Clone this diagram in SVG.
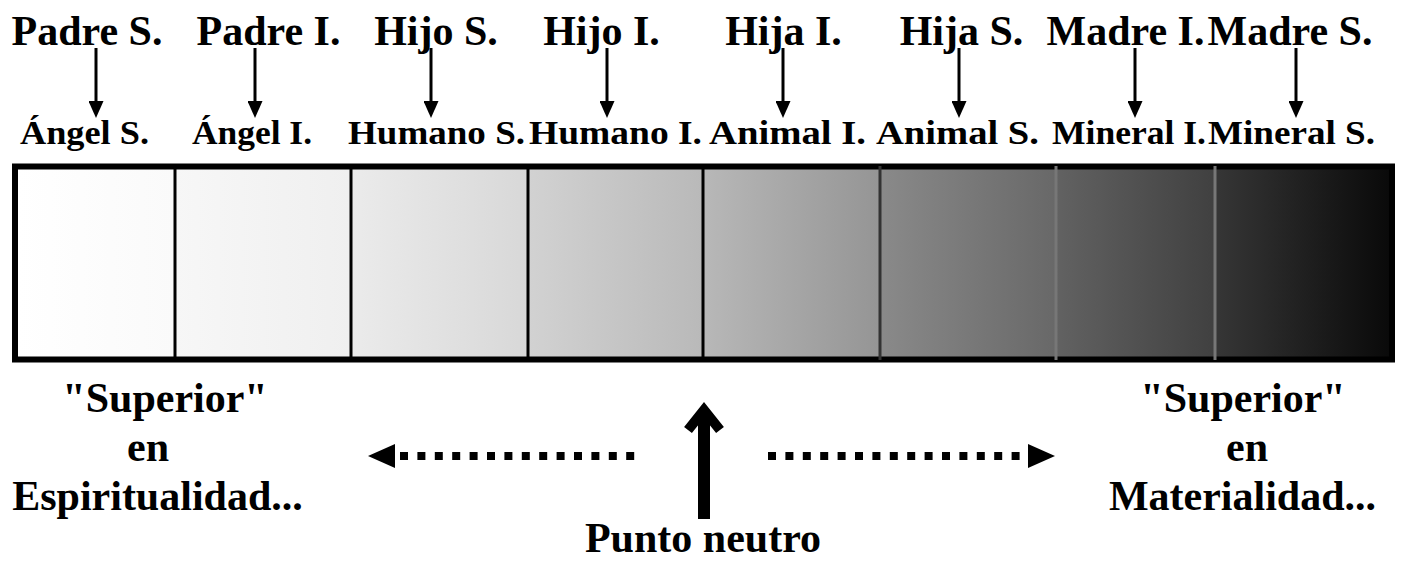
<svg xmlns="http://www.w3.org/2000/svg" width="1403" height="562" viewBox="0 0 1403 562">
<style>
text{font-family:"Liberation Serif","Times New Roman",serif;font-weight:bold;fill:#000;text-anchor:middle}
.top{font-size:42px}
.bot{font-size:33px}
.big{font-size:42px}
.conn line{stroke:#000;stroke-width:3}
.div{stroke-width:3}
.dots{stroke:#000;stroke-width:8;stroke-dasharray:8 9.4;fill:none}
</style>
<defs>
<marker id="ah" viewBox="0 0 17 15" refX="3" refY="7.5" markerWidth="17" markerHeight="15" markerUnits="userSpaceOnUse" orient="auto">
<path d="M0,0 L17,7.5 L0,15 Z" fill="#000"/>
</marker>
<linearGradient id="g" gradientUnits="userSpaceOnUse" x1="18" y1="0" x2="1389" y2="0">
<stop offset="0" stop-color="#ffffff"/>
<stop offset="0.1138" stop-color="#fafafa"/>
<stop offset="0.1138" stop-color="#f7f7f7"/>
<stop offset="0.2429" stop-color="#efefef"/>
<stop offset="0.2429" stop-color="#ebebeb"/>
<stop offset="0.372" stop-color="#d8d8d8"/>
<stop offset="0.372" stop-color="#d2d2d2"/>
<stop offset="0.4996" stop-color="#b9b9b9"/>
<stop offset="0.4996" stop-color="#b8b8b8"/>
<stop offset="0.628" stop-color="#959595"/>
<stop offset="0.628" stop-color="#8a8a8a"/>
<stop offset="0.7571" stop-color="#686868"/>
<stop offset="0.7571" stop-color="#626262"/>
<stop offset="0.8731" stop-color="#404040"/>
<stop offset="0.8731" stop-color="#363636"/>
<stop offset="1" stop-color="#0a0a0a"/>
</linearGradient>
</defs>
<rect width="1403" height="562" fill="#fff"/>

<g id="bar">
<rect x="15" y="166.5" width="1377" height="193" fill="url(#g)" stroke="#000" stroke-width="6"/>
<line class="div" x1="175" y1="167" x2="175" y2="359" stroke="#000"/>
<line class="div" x1="351" y1="167" x2="351" y2="359" stroke="#000"/>
<line class="div" x1="528" y1="167" x2="528" y2="359" stroke="#000"/>
<line class="div" x1="703" y1="167" x2="703" y2="359" stroke="#000"/>
<line class="div" x1="880" y1="166" x2="880" y2="360" stroke="#333"/>
<line class="div" x1="1056" y1="166" x2="1056" y2="360" stroke="#777"/>
<line class="div" x1="1215" y1="166" x2="1215" y2="360" stroke="#777"/>
</g>

<g id="n-padre-s"><text class="top" x="87" y="45">Padre S.</text></g>
<g id="n-padre-i"><text class="top" x="268.5" y="45">Padre I.</text></g>
<g id="n-hijo-s"><text class="top" x="436" y="45">Hijo S.</text></g>
<g id="n-hijo-i"><text class="top" x="601.5" y="45">Hijo I.</text></g>
<g id="n-hija-i"><text class="top" x="783.5" y="45">Hija I.</text></g>
<g id="n-hija-s"><text class="top" x="961.5" y="45">Hija S.</text></g>
<g id="n-madre-i"><text class="top" x="1125.5" y="45">Madre I.</text></g>
<g id="n-madre-s"><text class="top" x="1290" y="45">Madre S.</text></g>

<g id="n-angel-s"><text class="bot" x="84.5" y="144" textLength="129" lengthAdjust="spacingAndGlyphs">Ángel S.</text></g>
<g id="n-angel-i"><text class="bot" x="252" y="144" textLength="120" lengthAdjust="spacingAndGlyphs">Ángel I.</text></g>
<g id="n-humano-s"><text class="bot" x="436.5" y="144" textLength="177" lengthAdjust="spacingAndGlyphs">Humano S.</text></g>
<g id="n-humano-i"><text class="bot" x="615.5" y="144" textLength="173" lengthAdjust="spacingAndGlyphs">Humano I.</text></g>
<g id="n-animal-i"><text class="bot" x="787.5" y="144" textLength="157" lengthAdjust="spacingAndGlyphs">Animal I.</text></g>
<g id="n-animal-s"><text class="bot" x="957.5" y="144" textLength="163" lengthAdjust="spacingAndGlyphs">Animal S.</text></g>
<g id="n-mineral-i"><text class="bot" x="1129" y="144" textLength="154" lengthAdjust="spacingAndGlyphs">Mineral I.</text></g>
<g id="n-mineral-s"><text class="bot" x="1291.5" y="144" textLength="167" lengthAdjust="spacingAndGlyphs">Mineral S.</text></g>

<g id="connectors" class="conn">
<line x1="96" y1="48" x2="96" y2="104" marker-end="url(#ah)"/>
<line x1="255" y1="48" x2="255" y2="104" marker-end="url(#ah)"/>
<line x1="431" y1="48" x2="431" y2="104" marker-end="url(#ah)"/>
<line x1="607" y1="48" x2="607" y2="104" marker-end="url(#ah)"/>
<line x1="783" y1="48" x2="783" y2="104" marker-end="url(#ah)"/>
<line x1="959" y1="48" x2="959" y2="104" marker-end="url(#ah)"/>
<line x1="1135" y1="48" x2="1135" y2="104" marker-end="url(#ah)"/>
<line x1="1296" y1="48" x2="1296" y2="104" marker-end="url(#ah)"/>
</g>

<g id="left-arrow">
<line class="dots" x1="400" y1="456" x2="640" y2="456"/>
<path d="M368,456 L395,444 L395,468 Z" fill="#000"/>
</g>
<g id="right-arrow">
<line class="dots" x1="768" y1="456" x2="1028" y2="456"/>
<path d="M1055,456 L1028,444 L1028,468 Z" fill="#000"/>
</g>
<g id="up-arrow">
<line x1="704" y1="414" x2="704" y2="519" stroke="#000" stroke-width="12"/>
<polyline points="688,430 704,410 720,430" fill="none" stroke="#000" stroke-width="10" stroke-linejoin="miter"/>
</g>

<g id="n-left">
<text class="big" x="165" y="412">"Superior"</text>
<text class="big" x="148" y="461">en</text>
<text class="big" x="157.5" y="510">Espiritualidad...</text>
</g>
<g id="n-right">
<text class="big" x="1243" y="412">"Superior"</text>
<text class="big" x="1247" y="461">en</text>
<text class="big" x="1242.5" y="510">Materialidad...</text>
</g>
<g id="n-neutro"><text class="big" x="703" y="552">Punto neutro</text></g>
</svg>
